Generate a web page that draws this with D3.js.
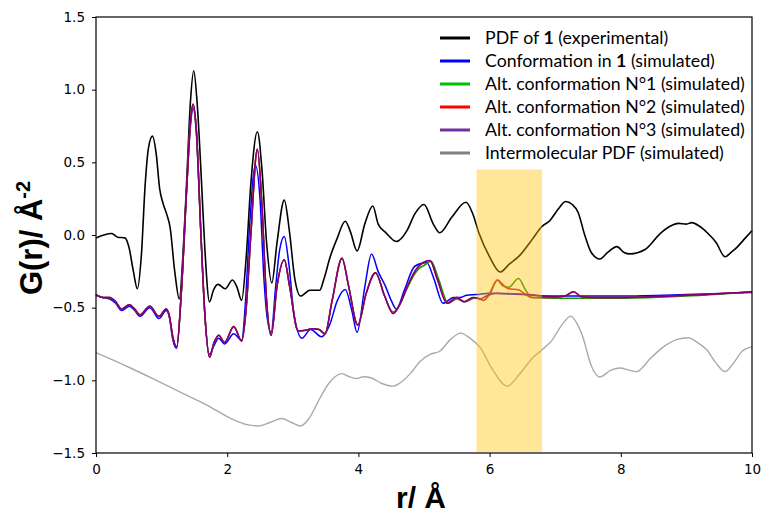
<!DOCTYPE html>
<html><head><meta charset="utf-8">
<script src="https://cdn.jsdelivr.net/npm/d3@7/dist/d3.min.js"></script>
<style>body{margin:0;background:#fff}svg{display:block}</style>
</head><body>
<svg id="c" width="763" height="516"></svg>
<script>
// ---- data (r in Å, G(r)) ----
const xTicks = [0, 2, 4, 6, 8, 10];
const yTicks = [-1.5, -1.0, -0.5, 0.0, 0.5, 1.0, 1.5];
const highlightRange = [5.8, 6.8, 0.45];

const expPDF = [[0,-0.02],[0.12,0.0],[0.24,0.01],[0.33,-0.015],[0.44,-0.02],[0.5,-0.08],[0.57,-0.25],[0.63,-0.37],[0.69,-0.15],[0.75,0.35],[0.8,0.6],[0.86,0.68],[0.92,0.55],[0.97,0.32],[1.02,0.22],[1.08,0.14],[1.13,0.05],[1.2,-0.25],[1.27,-0.44],[1.33,-0.1],[1.38,0.35],[1.44,0.92],[1.49,1.13],[1.54,0.92],[1.61,0.35],[1.66,-0.1],[1.73,-0.46],[1.79,-0.38],[1.86,-0.34],[1.97,-0.37],[2.08,-0.31],[2.15,-0.36],[2.22,-0.45],[2.29,-0.15],[2.36,0.35],[2.46,0.71],[2.53,0.45],[2.6,-0.05],[2.68,-0.33],[2.76,-0.05],[2.87,0.24],[2.95,0.02],[3.03,-0.3],[3.12,-0.42],[3.26,-0.38],[3.41,-0.38],[3.47,-0.31],[3.57,-0.15],[3.67,-0.03],[3.8,0.095],[3.88,0.02],[3.98,-0.11],[4.1,0.08],[4.22,0.2],[4.3,0.077],[4.41,0.02],[4.58,-0.045],[4.74,0.03],[4.86,0.145],[5.0,0.21],[5.14,0.077],[5.24,0.015],[5.42,0.12],[5.64,0.225],[5.74,0.15],[5.84,0.01],[6.0,-0.15],[6.16,-0.255],[6.3,-0.2],[6.46,-0.14],[6.65,-0.03],[6.79,0.055],[6.92,0.10],[7.05,0.18],[7.16,0.23],[7.26,0.21],[7.35,0.155],[7.45,0.0],[7.55,-0.12],[7.68,-0.165],[7.8,-0.12],[7.94,-0.08],[8.05,-0.12],[8.14,-0.13],[8.37,-0.10],[8.6,0.01],[8.75,0.06],[8.88,0.08],[9.0,0.075],[9.08,0.085],[9.2,0.06],[9.33,0.01],[9.45,-0.05],[9.59,-0.15],[9.68,-0.12],[9.77,-0.085],[9.9,-0.02],[10,0.03]];

const confIn1 = [[0,-0.415],[0.1,-0.43],[0.21,-0.44],[0.3,-0.47],[0.39,-0.52],[0.51,-0.49],[0.59,-0.52],[0.67,-0.56],[0.82,-0.50],[0.96,-0.575],[1.07,-0.52],[1.12,-0.57],[1.17,-0.72],[1.23,-0.78],[1.3,-0.4],[1.38,0.3],[1.44,0.75],[1.48,0.87],[1.53,0.7],[1.6,0.0],[1.66,-0.55],[1.73,-0.82],[1.8,-0.76],[1.87,-0.71],[1.96,-0.75],[2.10,-0.68],[2.22,-0.725],[2.28,-0.45],[2.34,0.05],[2.43,0.48],[2.5,0.25],[2.56,-0.3],[2.61,-0.57],[2.67,-0.67],[2.74,-0.35],[2.8,-0.1],[2.87,-0.01],[2.94,-0.2],[3.02,-0.55],[3.14,-0.71],[3.27,-0.65],[3.44,-0.70],[3.56,-0.62],[3.68,-0.45],[3.80,-0.375],[3.9,-0.52],[3.98,-0.67],[4.1,-0.35],[4.2,-0.13],[4.3,-0.25],[4.41,-0.35],[4.5,-0.45],[4.58,-0.51],[4.7,-0.38],[4.86,-0.215],[5.04,-0.19],[5.15,-0.3],[5.29,-0.47],[5.45,-0.43],[5.55,-0.43],[5.65,-0.415],[5.8,-0.41],[6.0,-0.40],[6.5,-0.41],[7.0,-0.42],[8.0,-0.42],[9.0,-0.41],[10,-0.395]];

const altConf3 = [[0,-0.41],[0.1,-0.43],[0.21,-0.43],[0.3,-0.46],[0.39,-0.51],[0.51,-0.48],[0.59,-0.51],[0.67,-0.55],[0.82,-0.49],[0.96,-0.56],[1.07,-0.51],[1.12,-0.56],[1.17,-0.7],[1.23,-0.77],[1.3,-0.4],[1.38,0.3],[1.44,0.78],[1.48,0.90],[1.53,0.72],[1.6,0.0],[1.66,-0.55],[1.73,-0.84],[1.8,-0.74],[1.87,-0.69],[1.96,-0.74],[2.10,-0.63],[2.22,-0.73],[2.29,-0.5],[2.36,0.0],[2.46,0.59],[2.53,0.2],[2.6,-0.45],[2.67,-0.69],[2.76,-0.35],[2.87,-0.17],[2.95,-0.35],[3.08,-0.66],[3.2,-0.655],[3.3,-0.645],[3.4,-0.65],[3.49,-0.68],[3.6,-0.45],[3.75,-0.16],[3.85,-0.35],[3.99,-0.62],[4.12,-0.4],[4.26,-0.26],[4.4,-0.42],[4.53,-0.54],[4.64,-0.47],[4.74,-0.36],[4.89,-0.23],[5.09,-0.175],[5.2,-0.3],[5.35,-0.47],[5.5,-0.43],[5.61,-0.46],[5.75,-0.43],[5.85,-0.44],[5.95,-0.42],[6.1,-0.40],[6.4,-0.405],[6.6,-0.41],[6.8,-0.42],[7.0,-0.425],[7.15,-0.42],[7.28,-0.39],[7.4,-0.425],[7.6,-0.43],[8.0,-0.43],[9.0,-0.415],[10,-0.39]];

const altConf2 = [[0,-0.41],[0.1,-0.43],[0.21,-0.43],[0.3,-0.46],[0.39,-0.51],[0.51,-0.48],[0.59,-0.51],[0.67,-0.55],[0.82,-0.49],[0.96,-0.56],[1.07,-0.51],[1.12,-0.56],[1.17,-0.7],[1.23,-0.77],[1.3,-0.4],[1.38,0.3],[1.44,0.78],[1.48,0.90],[1.53,0.72],[1.6,0.0],[1.66,-0.55],[1.73,-0.84],[1.8,-0.74],[1.87,-0.69],[1.96,-0.74],[2.10,-0.63],[2.22,-0.73],[2.29,-0.5],[2.36,0.0],[2.46,0.59],[2.53,0.2],[2.6,-0.45],[2.67,-0.69],[2.76,-0.35],[2.87,-0.17],[2.95,-0.35],[3.08,-0.66],[3.2,-0.655],[3.3,-0.645],[3.4,-0.65],[3.49,-0.68],[3.6,-0.45],[3.75,-0.16],[3.85,-0.35],[3.99,-0.62],[4.12,-0.4],[4.26,-0.26],[4.4,-0.42],[4.53,-0.54],[4.64,-0.47],[4.74,-0.36],[4.89,-0.23],[5.09,-0.175],[5.2,-0.3],[5.35,-0.47],[5.5,-0.43],[5.61,-0.46],[5.75,-0.43],[5.85,-0.44],[5.91,-0.45],[6.0,-0.40],[6.12,-0.31],[6.2,-0.34],[6.29,-0.37],[6.44,-0.377],[6.55,-0.41],[6.64,-0.43],[6.8,-0.43],[7.0,-0.43],[7.15,-0.42],[7.28,-0.39],[7.4,-0.425],[7.6,-0.43],[8.0,-0.43],[9.0,-0.415],[10,-0.39]];

const altConf1 = [[0,-0.41],[0.1,-0.43],[0.21,-0.43],[0.3,-0.46],[0.39,-0.51],[0.51,-0.48],[0.59,-0.51],[0.67,-0.55],[0.82,-0.49],[0.96,-0.56],[1.07,-0.51],[1.12,-0.56],[1.17,-0.7],[1.23,-0.77],[1.3,-0.4],[1.38,0.3],[1.44,0.78],[1.48,0.90],[1.53,0.72],[1.6,0.0],[1.66,-0.55],[1.73,-0.84],[1.8,-0.74],[1.87,-0.69],[1.96,-0.74],[2.10,-0.63],[2.22,-0.73],[2.29,-0.5],[2.36,0.0],[2.46,0.59],[2.53,0.2],[2.6,-0.45],[2.67,-0.69],[2.76,-0.35],[2.87,-0.17],[2.95,-0.35],[3.08,-0.66],[3.2,-0.655],[3.3,-0.645],[3.4,-0.65],[3.49,-0.68],[3.6,-0.45],[3.75,-0.16],[3.85,-0.35],[3.99,-0.62],[4.12,-0.4],[4.26,-0.26],[4.4,-0.42],[4.53,-0.53],[4.64,-0.47],[4.74,-0.37],[4.87,-0.26],[4.94,-0.225],[5.0,-0.21],[5.11,-0.18],[5.22,-0.3],[5.37,-0.47],[5.5,-0.44],[5.62,-0.46],[5.8,-0.43],[5.91,-0.45],[6.0,-0.41],[6.12,-0.31],[6.2,-0.35],[6.29,-0.36],[6.44,-0.30],[6.55,-0.38],[6.64,-0.43],[7.0,-0.435],[8.0,-0.435],[9.0,-0.42],[10,-0.39]];

const interPDF = [[0,-0.81],[0.5,-0.91],[0.92,-1.0],[1.3,-1.085],[1.69,-1.17],[2.09,-1.27],[2.3,-1.305],[2.47,-1.314],[2.65,-1.29],[2.83,-1.263],[2.98,-1.29],[3.12,-1.314],[3.25,-1.26],[3.41,-1.126],[3.55,-1.02],[3.64,-0.977],[3.75,-0.954],[3.86,-0.975],[3.97,-0.988],[4.08,-0.975],[4.2,-0.984],[4.35,-1.02],[4.53,-1.04],[4.63,-1.02],[4.79,-0.954],[4.94,-0.87],[5.1,-0.82],[5.24,-0.80],[5.4,-0.72],[5.56,-0.675],[5.7,-0.71],[5.85,-0.77],[6.05,-0.93],[6.27,-1.04],[6.45,-0.96],[6.67,-0.84],[6.8,-0.79],[6.95,-0.725],[7.1,-0.62],[7.24,-0.558],[7.32,-0.6],[7.42,-0.70],[7.55,-0.9],[7.68,-0.977],[7.85,-0.93],[7.99,-0.915],[8.12,-0.93],[8.24,-0.94],[8.45,-0.85],[8.65,-0.77],[8.85,-0.72],[9.03,-0.707],[9.17,-0.74],[9.31,-0.79],[9.45,-0.88],[9.59,-0.94],[9.72,-0.88],[9.85,-0.8],[10,-0.77]];

const legendLabels = [
  [["PDF of ", false], ["1", true], [" (experimental)", false]],
  [["Conformation in ", false], ["1", true], [" (simulated)", false]],
  [["Alt. conformation N°1 (simulated)", false]],
  [["Alt. conformation N°2 (simulated)", false]],
  [["Alt. conformation N°3 (simulated)", false]],
  [["Intermolecular PDF (simulated)", false]]
];
const legendColors = ["#000000", "#0000FF", "#00C000", "#FF0000", "#7030A0", "#7F7F7F"];

// ---- chart ----
const svg = d3.select("#c");
const L = 96, R = 752, T = 17, B = 453;
const x = d3.scaleLinear().domain([0, 10]).range([L, R]);
const y = d3.scaleLinear().domain([-1.5, 1.5]).range([B, T]);

const line = d3.line().x(d => x(d[0])).y(d => y(d[1])).curve(d3.curveMonotoneX);

const series = [
  {data: interPDF, color: "#AAAAAA", w: 1.4},
  {data: expPDF, color: "#000000", w: 1.6},
  {data: confIn1, color: "#0000FF", w: 1.5},
  {data: altConf1, color: "#1E9600", w: 1.5},
  {data: altConf2, color: "#E0101A", w: 1.5},
  {data: altConf3, color: "#800080", w: 1.5}
];
const g = svg.append("g");
series.forEach(s => {
  g.append("path").attr("d", line(s.data)).attr("fill", "none")
    .attr("stroke", s.color).attr("stroke-width", s.w).attr("stroke-linejoin", "round");
});

// highlight band (drawn over the curves, semi-transparent)
svg.append("rect")
  .attr("x", x(highlightRange[0])).attr("width", x(highlightRange[1]) - x(highlightRange[0]))
  .attr("y", y(highlightRange[2])).attr("height", y(-1.5) - y(highlightRange[2]) - 1)
  .attr("fill", "#FFC000").attr("fill-opacity", 0.4);

// axes
const fmt = d => (d < 0 ? "\u2212" : "") + Math.abs(d).toFixed(1);
const xa = svg.append("g").attr("transform", `translate(0,${B})`)
  .call(d3.axisBottom(x).tickValues(xTicks).tickSize(4).tickPadding(7).tickFormat(d3.format("d")));
const ya = svg.append("g").attr("transform", `translate(${L},0)`)
  .call(d3.axisLeft(y).tickValues(yTicks).tickSize(4).tickPadding(7).tickFormat(fmt));
[xa, ya].forEach(a => {
  a.select(".domain").remove();
  a.selectAll("line").attr("stroke", "#000").attr("stroke-width", 1);
  a.selectAll("text").attr("font-family", "DejaVu Sans").attr("font-size", 13.5).attr("fill", "#000");
});
svg.append("rect").attr("x", L).attr("y", T).attr("width", R - L).attr("height", B - T)
  .attr("fill", "none").attr("stroke", "#000").attr("stroke-width", 1.2);

// axis titles
svg.append("text").attr("x", 421).attr("y", 508).attr("text-anchor", "middle")
  .attr("font-family", "Liberation Sans, Arial").attr("font-weight", "bold").attr("font-size", 30)
  .text("r/ Å");
const yt = svg.append("text").attr("transform", "translate(42,238) rotate(-90)").attr("text-anchor", "middle")
  .attr("font-family", "Liberation Sans, Arial").attr("font-weight", "bold").attr("font-size", 31);
yt.append("tspan").text("G(r)/ Å");
yt.append("tspan").attr("font-size", 20).attr("dy", -12).text("-2");

// legend
const lg = svg.append("g");
const texts = [];
legendLabels.forEach((parts, i) => {
  const yy = 38 + i * 23;
  lg.append("line").attr("x1", 440).attr("x2", 470).attr("y1", yy).attr("y2", yy)
    .attr("stroke", legendColors[i]).attr("stroke-width", 3);
  const t = lg.append("text").attr("x", 485).attr("y", yy + 6)
    .attr("font-family", "Lato").attr("font-size", 17).attr("fill", "#000");
  parts.forEach(p => t.append("tspan").attr("font-weight", p[1] ? "bold" : "normal").text(p[0]));
  texts.push(t);
});
// fit legend font so the longest entry spans the same width as the original (≈260 px)
const w = texts[2].node().getComputedTextLength();
const fs = 17 * 260 / w;
texts.forEach(t => t.attr("font-size", fs));
</script>
</body></html>
